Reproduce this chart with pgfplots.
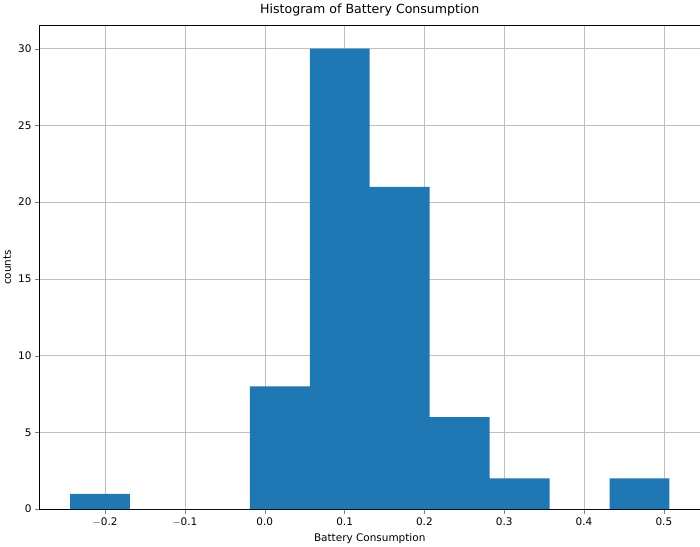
\documentclass[border=0pt]{standalone}
\usepackage{pgfplots}
\pgfplotsset{compat=1.18}
\usepackage{fontspec}
\setmainfont{DejaVu Sans}
\definecolor{mplblue}{HTML}{1F77B4}
\begin{document}
\begin{tikzpicture}
\begin{axis}[
  scale only axis, width=628bp, height=460bp,
  xmin=-0.282, xmax=0.545, ymin=0, ymax=31.5,
  xtick={-0.2,-0.1,0,0.1,0.2,0.3,0.4,0.5},
  xticklabels={$-$0.2,$-$0.1,0.0,0.1,0.2,0.3,0.4,0.5},
  ytick={0,5,10,15,20,25,30},
  xtick pos=bottom, ytick pos=left,
  grid=major, grid style={gray!50},
  tick align=outside,
  title={Histogram of Battery Consumption},
  xlabel={Battery Consumption}, ylabel={counts},
  /pgf/number format/assume math mode=true,
  ticklabel style={font=\fontsize{10}{12}\selectfont},
  label style={font=\fontsize{10}{12}\selectfont},
  title style={font=\fontsize{12}{14}\selectfont},
]
\addplot[ybar interval, fill=mplblue, draw=none] coordinates {
(-0.2440,1) (-0.1689,0) (-0.0938,0) (-0.0187,8) (0.0564,30) (0.1315,21)
(0.2066,6) (0.2817,2) (0.3568,0) (0.4319,2) (0.5070,2)};
\end{axis}
\end{tikzpicture}
\end{document}
